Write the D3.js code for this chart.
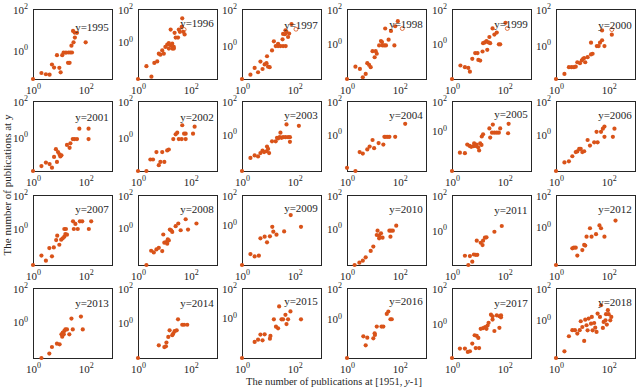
<!DOCTYPE html>
<html>
<head>
<meta charset="utf-8">
<script src="https://cdn.jsdelivr.net/npm/d3@7"></script>
<style>
  body { margin: 0; background: #fff; }
  svg { display: block; font-family: "Liberation Serif", "Times New Roman", serif; }
</style>
</head>
<body>
<script>
// Years shown, one panel each (4 rows x 6 columns)
const years = d3.range(1995, 2019);

// Lower end of each panel's y axis, as a log10 exponent (top is always 10^2)
const yMinExp = [-1.38, -2.26, -1.85, -2.02, -2.1, -1.85,
                 -1.84, -1.84, -2.18, -2.18, -2.67, -2.18,
                 -2.18, -2.27, -2.67, -2.18, -2.0, -2.4,
                 -2.14, -2.02, -2.7, -2.59, -1.94, -2.38];

// Points, as [log10 x, log10 y]
const p1995 = [[0,-1.38],[0.32,-1.09],[0.49,-1.15],[0.63,-1.17],[0.72,-0.68],[0.8,-0.83],[0.91,-0.23],[1.05,-1.06],[1.0,-0.84],[1.11,-0.23],[1.16,-0.11],[1.25,-0.11],[1.35,-0.1],[1.42,-0.1],[1.48,-0.1],[1.33,-0.6],[1.39,-0.6],[1.46,0.23],[1.54,0.39],[1.52,0.94],[1.58,0.86],[1.67,0.85],[1.59,0.62],[2.0,0.39]];
const p1996 = [[0,-2.26],[0.32,-1.48],[0.51,-2.12],[0.62,-1.28],[0.73,-1.19],[0.79,-0.72],[0.85,-0.78],[0.92,-0.52],[0.98,-0.72],[1.04,-0.31],[1.11,-0.17],[1.17,-0.07],[1.24,-0.21],[1.3,-0.11],[1.36,-0.31],[1.17,-0.41],[1.3,-0.41],[1.36,-0.41],[1.24,0.75],[1.39,0.55],[1.43,0.26],[1.52,0.26],[1.59,0.61],[1.66,0.92],[1.68,1.43],[1.72,0.61],[1.77,0.45],[1.55,0.75]];
const p1997 = [[0,-1.85],[0.32,-1.61],[0.48,-1.24],[0.61,-1.48],[0.7,-0.89],[0.78,-1.3],[0.86,-1.05],[0.93,-0.98],[0.99,-1.17],[1.05,-1.2],[0.95,-0.6],[1.14,-0.28],[1.21,0.22],[1.28,-0.04],[1.37,-0.04],[1.46,-0.04],[1.56,-0.04],[1.37,0.09],[1.56,0.63],[1.63,0.61],[1.69,0.74],[1.54,0.33],[1.66,-0.04],[1.75,0.46],[1.79,0.65],[1.65,0.83],[1.88,1.17]];
const p1998 = [[0,-2.02],[0.32,-1.31],[0.49,-1.44],[0.6,-1.92],[0.71,-1.73],[0.77,-1.11],[0.84,-1.21],[0.9,-1.34],[0.97,-0.42],[1.09,-0.42],[1.13,-0.57],[1.05,-0.77],[1.22,-0.09],[1.29,0.16],[1.33,0.1],[1.35,-0.09],[1.42,-0.09],[1.48,-0.09],[1.45,0.88],[1.58,0.24],[1.67,0.74],[1.8,-0.09],[1.93,1.3],[1.83,1.01]];
const p1999 = [[0,-2.1],[0.32,-1.31],[0.49,-1.41],[0.62,-1.45],[0.68,-1.67],[0.77,-0.92],[0.88,-0.58],[0.97,-0.58],[1.0,-0.98],[1.07,-1.02],[1.16,-0.49],[1.18,0.0],[1.25,0.04],[1.31,0.12],[1.39,0.04],[1.45,0.0],[1.34,-0.39],[1.42,0.36],[1.54,0.86],[1.61,0.5],[1.7,0.62],[1.78,-0.07],[1.83,-0.07],[2.03,1.19]];
const p2000 = [[0,-1.85],[0.32,-1.57],[0.49,-1.2],[0.59,-1.2],[0.68,-1.2],[0.75,-1.17],[0.81,-0.93],[0.91,-0.98],[0.98,-0.83],[1.03,-0.74],[1.11,-0.93],[1.07,-0.7],[1.2,-0.65],[1.33,-0.5],[1.39,-0.46],[1.33,0.15],[1.55,-0.04],[1.62,-0.04],[1.67,0.15],[1.75,0.28],[1.84,-0.04],[1.75,0.82],[2.12,0.59]];
const p2001 = [[0,-1.84],[0.32,-1.57],[0.49,-1.38],[0.63,-1.46],[0.72,-1.66],[0.8,-1.07],[0.87,-0.64],[0.91,-1.34],[0.95,-0.8],[1.01,-0.93],[1.04,-1.04],[1.08,-0.98],[1.29,-0.41],[1.39,-0.57],[1.42,-0.32],[1.51,-0.09],[1.58,-0.09],[1.67,-0.09],[1.76,0.48],[2.11,0.48],[2.11,-0.09]];
const p2002 = [[0,-1.84],[0.32,-1.84],[0.47,-1.21],[0.57,-1.21],[0.7,-0.8],[0.79,-1.52],[0.85,-1.34],[0.92,-0.8],[1.0,-1.34],[1.11,-0.71],[1.17,-0.66],[1.34,-0.09],[1.43,0.17],[1.49,0.26],[1.55,-0.09],[1.66,-0.09],[1.68,0.67],[1.75,0.21],[1.81,0.21],[1.81,-0.09],[2.09,0.21],[2.15,0.59]];
const p2003 = [[0,-2.18],[0.32,-1.4],[0.48,-1.25],[0.61,-1.31],[0.7,-1.11],[0.78,-0.96],[0.84,-1.05],[0.93,-1.0],[0.95,-0.72],[1.03,-1.11],[0.99,-0.86],[1.14,-0.41],[1.28,-0.41],[1.33,-0.2],[1.37,-0.24],[1.43,-0.16],[1.5,-0.2],[1.56,-0.16],[1.65,-0.16],[1.75,-0.16],[1.82,-0.16],[1.46,0.11],[1.69,0.6],[1.82,-0.44],[2.16,0.52]];
const p2004 = [[0,-1.99],[0.32,-2.18],[0.48,-1.05],[0.6,-1.14],[0.77,-0.89],[0.86,-0.72],[0.97,-0.33],[1.03,-0.82],[1.2,-0.51],[1.38,-0.6],[1.42,-0.14],[1.48,-0.14],[1.55,-0.14],[1.61,-0.14],[1.83,-0.14],[2.21,0.64]];
const p2005 = [[0,-2.67],[0.3,-1.45],[0.49,-1.48],[0.58,-0.91],[0.67,-1.0],[0.73,-1.06],[0.81,-1.02],[0.88,-1.0],[0.84,-0.83],[0.93,-0.91],[0.99,-1.09],[1.03,-1.3],[1.07,-0.83],[1.12,-0.93],[1.13,-0.37],[1.18,-0.22],[1.42,0.17],[1.45,-0.44],[1.52,-0.11],[1.61,-0.11],[1.7,-0.11],[1.78,-0.11],[1.55,0.43],[1.83,0.17],[2.15,0.48],[2.13,-0.15]];
const p2006 = [[0,-2.18],[0.32,-1.67],[0.49,-1.6],[0.62,-1.3],[0.75,-1.05],[0.81,-1.01],[0.88,-0.86],[0.94,-0.86],[1.0,-1.05],[1.07,-1.0],[1.2,-0.33],[1.29,-0.66],[1.45,-0.47],[1.58,-0.47],[1.54,0.16],[1.71,0.16],[1.78,0.35],[1.84,0.47],[1.84,-0.14],[2.16,-0.14],[2.22,0.35]];
const p2007 = [[0,-2.18],[0.32,-1.62],[0.49,-1.92],[0.62,-1.17],[0.72,-1.66],[0.79,-1.13],[0.88,-0.69],[0.92,-0.43],[1.0,-0.97],[1.07,-0.67],[1.13,-0.59],[1.19,-0.49],[1.23,-0.33],[1.19,-0.03],[1.25,-0.03],[1.29,-0.37],[1.52,0.43],[1.61,0.27],[1.55,-0.03],[1.7,-0.03],[1.78,0.43],[1.87,0.43],[2.12,-0.03],[2.21,0.43]];
const p2008 = [[0.32,-2.27],[0.5,-1.4],[0.6,-1.5],[0.7,-1.32],[0.79,-1.22],[0.92,-1.42],[0.96,-0.41],[1.0,-0.91],[1.07,-0.87],[1.11,-0.97],[1.13,-0.71],[1.17,-0.77],[1.21,-0.11],[1.3,-0.25],[1.26,-0.15],[1.43,0.1],[1.53,0.26],[1.62,-0.15],[1.81,0.52],[1.9,-0.11],[2.22,0.26]];
const p2009 = [[0,-2.67],[0.32,-1.94],[0.48,-2.1],[0.64,-2.05],[0.7,-0.89],[0.86,-0.78],[0.95,-1.16],[1.06,-0.76],[1.15,-0.12],[1.19,-0.45],[1.31,-0.65],[1.6,-0.43],[1.85,0.66],[2.24,-0.12]];
const p2010 = [[0.29,-2.18],[0.47,-2.04],[0.6,-1.92],[0.71,-1.72],[0.9,-1.34],[1.0,-1.08],[1.13,-0.39],[1.16,-0.13],[1.22,-0.43],[1.29,-0.29],[1.22,-0.59],[1.35,-0.55],[1.61,-0.13],[1.67,-0.13],[1.74,-0.13],[1.65,-0.49],[1.87,0.17]];
const p2011 = [[0.49,-1.47],[0.62,-2.0],[0.68,-1.49],[0.77,-1.81],[0.83,-1.4],[0.9,-1.42],[0.96,-1.42],[0.94,-0.61],[1.09,-0.73],[1.16,-0.86],[1.18,-0.61],[1.25,-0.44],[1.31,-0.42],[1.61,-0.1],[1.89,0.23]];
const p2012 = [[0,-2.4],[0.62,-1.35],[0.68,-1.31],[0.75,-1.31],[0.81,-1.81],[1.0,-1.46],[1.07,-1.14],[1.11,-1.18],[1.16,-0.62],[1.29,-0.09],[1.35,-0.62],[1.52,-0.46],[1.65,0.09],[1.71,-0.09],[1.84,-0.62],[2.26,0.39]];
const p2013 = [[0.32,-2.14],[0.62,-1.88],[0.72,-1.49],[0.91,-1.29],[1.01,-1.33],[1.08,-0.74],[1.11,-0.88],[1.13,-0.64],[1.17,-0.74],[1.19,-0.54],[1.23,-0.45],[1.29,-0.45],[1.38,-0.74],[1.46,0.19],[1.51,-0.45],[1.82,0.31],[1.89,-0.45]];
const p2014 = [[0,-2.02],[0.79,-1.29],[1.0,-1.39],[1.06,-1.35],[1.08,-1.13],[1.15,-0.81],[1.2,-0.43],[1.3,-0.71],[1.34,-0.62],[1.39,-0.48],[1.47,-0.43],[1.52,0.2],[1.68,-0.11],[1.75,-0.11],[1.87,-0.11]];
const p2015 = [[0,-2.7],[0.48,-1.62],[0.61,-1.47],[0.7,-1.13],[0.78,-1.51],[0.86,-1.11],[1.06,-1.4],[1.08,-1.22],[1.21,-0.1],[1.29,-0.6],[1.37,-0.71],[1.41,0.76],[1.5,-0.1],[1.56,-0.1],[1.65,0.2],[1.69,-0.42],[1.75,-0.1],[1.84,0.43],[2.24,-0.1]];
const p2016 = [[0,-2.59],[0.62,-1.17],[0.77,-1.26],[0.71,-1.76],[1.0,-1.3],[1.05,-0.97],[1.06,-1.08],[1.13,-0.53],[1.31,-0.53],[1.38,-0.53],[1.51,0.3],[1.57,0.46],[1.65,-0.05],[1.7,-0.05]];
const p2017 = [[0,-1.94],[0.3,-1.41],[0.49,-1.41],[0.6,-1.6],[0.68,-1.56],[0.77,-1.13],[0.86,-0.66],[0.94,-0.7],[1.0,-0.81],[1.03,-1.38],[0.9,-1.38],[1.09,-0.3],[1.18,-0.26],[1.26,-0.2],[1.31,-0.3],[1.35,-0.11],[1.39,0.04],[1.48,0.5],[1.54,0.41],[1.54,0.22],[1.61,-0.42],[1.7,0.46],[1.8,0.41],[1.86,0.35],[1.86,0.46],[1.8,-0.24]];
const p2018 = [[0,-2.38],[0.32,-1.96],[0.49,-1.02],[0.62,-0.64],[0.72,-0.64],[0.81,-0.85],[0.9,-0.64],[0.94,-0.08],[1.0,-0.44],[1.07,-1.31],[1.11,0.02],[1.16,-0.33],[1.2,-0.65],[1.24,0.09],[1.33,-0.23],[1.36,0.19],[1.39,-0.65],[1.45,-0.19],[1.49,-0.48],[1.54,-0.75],[1.58,0.4],[1.67,0.19],[1.71,0.92],[1.78,-0.5],[1.81,-0.12],[1.88,-0.02],[1.93,-0.29],[1.97,0.61],[2.06,-0.02],[2.1,0.19],[1.9,0.36],[2.0,0.36]];

const points = [p1995, p1996, p1997, p1998, p1999, p2000,
                p2001, p2002, p2003, p2004, p2005, p2006,
                p2007, p2008, p2009, p2010, p2011, p2012,
                p2013, p2014, p2015, p2016, p2017, p2018];

// Open markers (the year itself) in the first row
const openPoints = { 1996: [1.75, 0.75], 1997: [2.05, 0.89], 1998: [2.1, 0.88], 1999: [2.1, 0.86], 2000: [2.12, 0.87] };

// Layout
const width = 637, height = 388;
const colLeft = [33, 138, 242, 347, 452, 556];
const rowTop = [9, 101, 195, 288];
const pw = 79, ph = 70;
const orange = "#D95319";
const ink = "#262626";

const svg = d3.select("body").append("svg")
    .attr("width", width)
    .attr("height", height);

const pow = ([a, b]) => [Math.pow(10, a), Math.pow(10, b)];

years.forEach((year, i) => {
  const left = colLeft[i % 6], top = rowTop[Math.floor(i / 6)];
  const x = d3.scaleLog().domain([1, 1000]).range([left, left + pw]);
  const y = d3.scaleLog().domain([Math.pow(10, yMinExp[i]), 100]).range([top + ph, top]);

  const g = svg.append("g");

  g.append("rect")
      .attr("x", left + 0.5).attr("y", top + 0.5)
      .attr("width", pw).attr("height", ph)
      .attr("fill", "#fff")
      .attr("stroke", ink)
      .attr("stroke-width", 1);

  // x tick labels 10^0, 10^2
  [1, 100].forEach(v => {
    const t = g.append("text")
        .attr("x", x(v) + 0.5)
        .attr("y", top + ph + 14.5)
        .attr("text-anchor", "middle")
        .attr("fill", ink)
        .style("font-size", "11px");
    t.append("tspan").text("10");
    t.append("tspan").attr("dy", -4.5).style("font-size", "8px").text(Math.log10(v));
  });

  // y tick labels 10^0, 10^2
  [1, 100].forEach(v => {
    const t = g.append("text")
        .attr("x", left - 5)
        .attr("y", y(v) + 4.5)
        .attr("text-anchor", "end")
        .attr("fill", ink)
        .style("font-size", "11px");
    t.append("tspan").text("10");
    t.append("tspan").attr("dy", -4.5).style("font-size", "8px").text(Math.log10(v));
  });

  g.append("g")
    .selectAll("circle")
    .data(points[i].map(pow))
    .join("circle")
      .attr("cx", d => x(d[0]))
      .attr("cy", d => y(d[1]))
      .attr("r", 2.1)
      .attr("fill", orange);

  if (openPoints[year]) {
    const d = pow(openPoints[year]);
    g.append("circle")
        .attr("cx", x(d[0]))
        .attr("cy", y(d[1]))
        .attr("r", 2)
        .attr("fill", "none")
        .attr("stroke", orange)
        .attr("stroke-width", 0.8);
  }

  g.append("text")
      .attr("x", x(Math.pow(10, 1.6)))
      .attr("y", y(Math.pow(10, 1.13)))
      .attr("dy", "0.35em")
      .attr("fill", ink)
      .style("font-size", "11px")
      .text(`y=${year}`);
});

// Axis titles
const xt = svg.append("text")
    .attr("x", 334)
    .attr("y", 385)
    .attr("text-anchor", "middle")
    .attr("fill", ink)
    .style("font-size", "10.5px");
xt.append("tspan").text("The number of publications at [1951, ");
xt.append("tspan").style("font-style", "italic").text("y");
xt.append("tspan").text("-1]");

svg.append("text")
    .attr("transform", "translate(11,185) rotate(-90)")
    .attr("text-anchor", "middle")
    .attr("fill", ink)
    .style("font-size", "11px")
    .text("The number of publications at y");
</script>
</body>
</html>
